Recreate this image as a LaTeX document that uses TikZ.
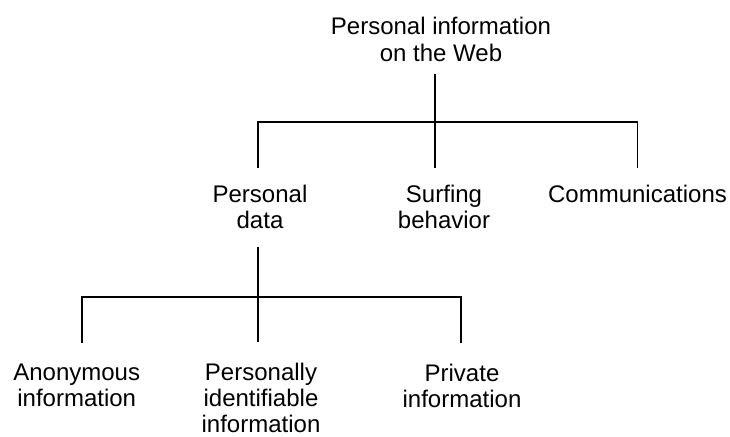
\documentclass[tikz,border=0pt]{standalone}
\usepackage{fontspec}
\newfontfamily\treefont{Liberation Sans}
\usepackage{tikz}

\begin{document}
\begin{tikzpicture}[x=1pt,y=-1pt,
    wire/.style={line width=1.9pt,line cap=rect}]
                \useasboundingbox (0,0) rectangle (730,436);
                \begin{scope}[every node/.style={align=center,inner sep=0pt,anchor=north,
                    font=\treefont\fontsize{24}{26.5}\selectfont}]
                    \node [font=\treefont\fontsize{24}{27.5}\selectfont] (web) at (441,16.7) {Personal information\\on the Web};
                    \node (data) at (260,184.7) {Personal\\data};
                    \node (surf) at (444,184.7) {Surfing\\behavior};
                    \node (comm) at (637.5,184.7) {Communications};
                    \node (anon) at (76.7,363.5) {Anonymous\\information};
                    \node [font=\treefont\fontsize{24}{26}\selectfont] (pii) at (261,362.5) {Personally\\identifiable\\information};
                    \node (priv) at (462,363.5) {Private\\information};
                \end{scope}
                % branching points of the two levels
                \coordinate (webfork) at (435,122);
                \coordinate (datafork) at (258,297);
                \begin{scope}[every path/.style={wire}]
                    \draw [shorten <=12.5pt] (web.south -| webfork) -- (webfork);
                    \draw [shorten >=17.7pt] (webfork) -| ([xshift=-2pt]data.north);
                    \draw [shorten >=17.7pt] (webfork) -- (webfork |- surf.north);
                    \draw [shorten >=17.7pt] (webfork) -| (comm.north);
                    \draw [shorten <=19pt] (data.south -| datafork) -- (datafork);
                    \draw [shorten >=21pt] (datafork) -| ([xshift=5pt]anon.north);
                    \draw [shorten >=21pt] (datafork) -- (datafork |- pii.north);
                    \draw [shorten >=21pt] (datafork) -| ([xshift=-1pt]priv.north);
                \end{scope}
\end{tikzpicture}
\end{document}
